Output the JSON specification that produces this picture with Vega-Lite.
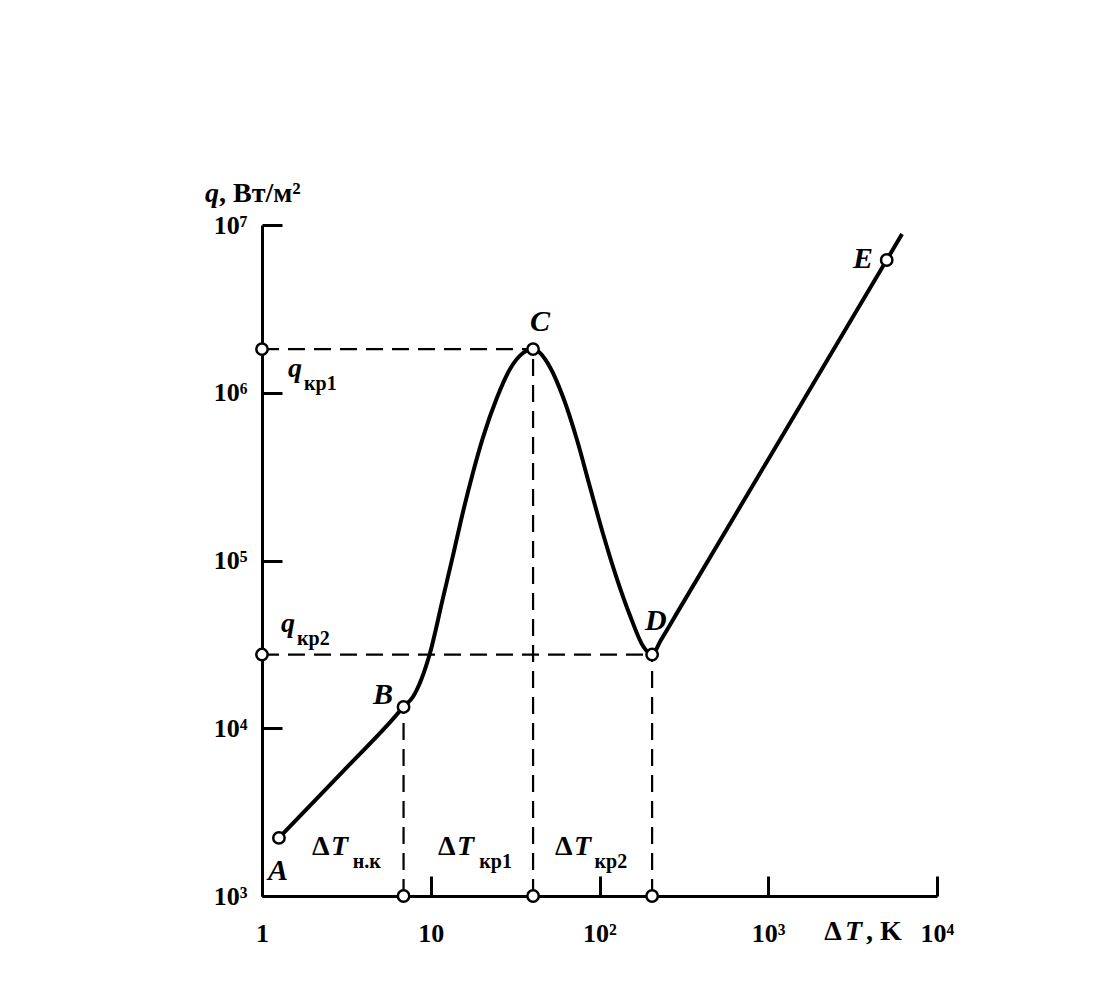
{
  "$schema": "https://vega.github.io/schema/vega-lite/v6.json",
  "width": 675,
  "height": 671,
  "autosize": "none",
  "padding": {"left": 262, "top": 225, "right": 180, "bottom": 103},
  "background": "white",
  "config": {"view": {"stroke": null}, "font": "Liberation Serif"},
  "datasets": {
    "curve": [
      {"x": 1.26, "y": 2220},
      {"x": 3.0, "y": 5500},
      {"x": 5.8, "y": 11000},
      {"x": 6.9, "y": 13400},
      {"x": 7.85, "y": 15400},
      {"x": 9.9, "y": 28100},
      {"x": 11.8, "y": 59430},
      {"x": 13.55, "y": 107250},
      {"x": 15.5, "y": 193500},
      {"x": 17.8, "y": 335100},
      {"x": 20.4, "y": 541900},
      {"x": 24.7, "y": 936900},
      {"x": 29.5, "y": 1385600},
      {"x": 35.2, "y": 1726000},
      {"x": 40.4, "y": 1820000},
      {"x": 50.9, "y": 1420000},
      {"x": 60.8, "y": 943000},
      {"x": 73.6, "y": 523000},
      {"x": 87.8, "y": 274300},
      {"x": 105, "y": 143900},
      {"x": 127, "y": 77560},
      {"x": 152, "y": 46700},
      {"x": 181, "y": 30930},
      {"x": 205, "y": 27500},
      {"x": 230, "y": 33250},
      {"x": 300, "y": 52200},
      {"x": 1000, "y": 400500},
      {"x": 5035, "y": 6185000},
      {"x": 6203, "y": 8840000}
    ],
    "dashes": [
      {"x": 1, "x2": 40.4, "y": 1820000, "y2": 1820000},
      {"x": 1, "x2": 205, "y": 27500, "y2": 27500},
      {"x": 6.9, "x2": 6.9, "y": 1000, "y2": 13400},
      {"x": 40.4, "x2": 40.4, "y": 1000, "y2": 1820000},
      {"x": 205, "x2": 205, "y": 1000, "y2": 27500}
    ],
    "circles": [
      {"x": 1.26, "y": 2220},
      {"x": 6.9, "y": 13400},
      {"x": 40.4, "y": 1820000},
      {"x": 205, "y": 27500},
      {"x": 5035, "y": 6185000},
      {"x": 1, "y": 1820000},
      {"x": 1, "y": 27500},
      {"x": 6.9, "y": 1000},
      {"x": 40.4, "y": 1000},
      {"x": 205, "y": 1000}
    ],
    "pointLabels": [
      {"x": 1.085, "y": 1246, "text": "A"},
      {"x": 4.55, "y": 13950, "text": "B"},
      {"x": 38.7, "y": 2334000, "text": "C"},
      {"x": 186, "y": 38500, "text": "D"},
      {"x": 3178, "y": 5540000, "text": "E"}
    ],
    "italicSym": [
      {"x": 1.426, "y": 1241000, "text": "q"},
      {"x": 1.296, "y": 37480, "text": "q"},
      {"x": 0.4595, "y": 13710000, "text": "q"},
      {"x": 2.564, "y": 1756, "text": "T"},
      {"x": 14.3, "y": 1756, "text": "T"},
      {"x": 70.6, "y": 1756, "text": "T"},
      {"x": 2850, "y": 546.6, "text": "T"}
    ],
    "upright": [
      {"x": 1.978, "y": 1756, "text": "Δ"},
      {"x": 11.04, "y": 1756, "text": "Δ"},
      {"x": 54.5, "y": 1756, "text": "Δ"},
      {"x": 2150, "y": 546.6, "text": "Δ"},
      {"x": 0.556, "y": 13710000, "text": ", Вт/м²"},
      {"x": 3796, "y": 546.6, "text": ", K"}
    ],
    "subs": [
      {"x": 3.45, "y": 1469, "text": "н.к"},
      {"x": 19.4, "y": 1469, "text": "кр1"},
      {"x": 93.5, "y": 1469, "text": "кр2"},
      {"x": 1.774, "y": 1038000, "text": "кр1"},
      {"x": 1.612, "y": 31360, "text": "кр2"}
    ]
  },
  "layer": [
    {
      "data": {"name": "dashes"},
      "mark": {"type": "rule", "stroke": "black", "strokeWidth": 2.2, "strokeDash": [17, 9]},
      "encoding": {
        "x": {
          "field": "x", "type": "quantitative",
          "scale": {"type": "log", "domain": [1, 10000], "nice": false},
          "axis": {
            "values": [1, 10, 100, 1000, 10000],
            "labelExpr": "datum.value == 1 ? '1' : datum.value == 10 ? '10' : datum.value == 100 ? '10²' : datum.value == 1000 ? '10³' : '10⁴'",
            "title": null,
            "grid": false,
            "domainColor": "black", "domainWidth": 3,
            "tickColor": "black", "tickWidth": 3, "tickSize": -20,
            "labelPadding": 44, "labelBaseline": "top",
            "labelFont": "Liberation Serif", "labelFontSize": 26, "labelFontWeight": "bold", "labelColor": "black",
            "labelFlush": false, "labelOverlap": false
          }
        },
        "x2": {"field": "x2"},
        "y": {
          "field": "y", "type": "quantitative",
          "scale": {"type": "log", "domain": [1000, 10000000], "nice": false},
          "axis": {
            "values": [1000, 10000, 100000, 1000000, 10000000],
            "labelExpr": "datum.value == 1000 ? '10³' : datum.value == 10000 ? '10⁴' : datum.value == 100000 ? '10⁵' : datum.value == 1000000 ? '10⁶' : '10⁷'",
            "title": null,
            "grid": false,
            "domainColor": "black", "domainWidth": 3,
            "tickColor": "black", "tickWidth": 3, "tickSize": -20,
            "labelPadding": 35,
            "labelFont": "Liberation Serif", "labelFontSize": 26, "labelFontWeight": "bold", "labelColor": "black",
            "labelFlush": false, "labelOverlap": false
          }
        },
        "y2": {"field": "y2"}
      }
    },
    {
      "data": {"name": "curve"},
      "mark": {"type": "line", "stroke": "black", "strokeWidth": 4, "interpolate": "monotone"},
      "encoding": {
        "x": {"field": "x", "type": "quantitative"},
        "y": {"field": "y", "type": "quantitative"}
      }
    },
    {
      "data": {"name": "circles"},
      "mark": {"type": "point", "shape": "circle", "size": 130, "filled": false, "fill": "white", "fillOpacity": 1, "stroke": "black", "strokeWidth": 2.5, "opacity": 1},
      "encoding": {
        "x": {"field": "x", "type": "quantitative"},
        "y": {"field": "y", "type": "quantitative"}
      }
    },
    {
      "data": {"name": "pointLabels"},
      "mark": {"type": "text", "align": "left", "baseline": "alphabetic", "font": "Liberation Serif", "fontSize": 30, "fontStyle": "italic", "fontWeight": "bold", "color": "black"},
      "encoding": {
        "x": {"field": "x", "type": "quantitative"},
        "y": {"field": "y", "type": "quantitative"},
        "text": {"field": "text"}
      }
    },
    {
      "data": {"name": "italicSym"},
      "mark": {"type": "text", "align": "left", "baseline": "alphabetic", "font": "Liberation Serif", "fontSize": 28, "fontStyle": "italic", "fontWeight": "bold", "color": "black"},
      "encoding": {
        "x": {"field": "x", "type": "quantitative"},
        "y": {"field": "y", "type": "quantitative"},
        "text": {"field": "text"}
      }
    },
    {
      "data": {"name": "upright"},
      "mark": {"type": "text", "align": "left", "baseline": "alphabetic", "font": "Liberation Serif", "fontSize": 28, "fontWeight": "bold", "color": "black"},
      "encoding": {
        "x": {"field": "x", "type": "quantitative"},
        "y": {"field": "y", "type": "quantitative"},
        "text": {"field": "text"}
      }
    },
    {
      "data": {"name": "subs"},
      "mark": {"type": "text", "align": "left", "baseline": "alphabetic", "font": "Liberation Serif", "fontSize": 20, "fontWeight": "bold", "color": "black"},
      "encoding": {
        "x": {"field": "x", "type": "quantitative"},
        "y": {"field": "y", "type": "quantitative"},
        "text": {"field": "text"}
      }
    }
  ]
}
